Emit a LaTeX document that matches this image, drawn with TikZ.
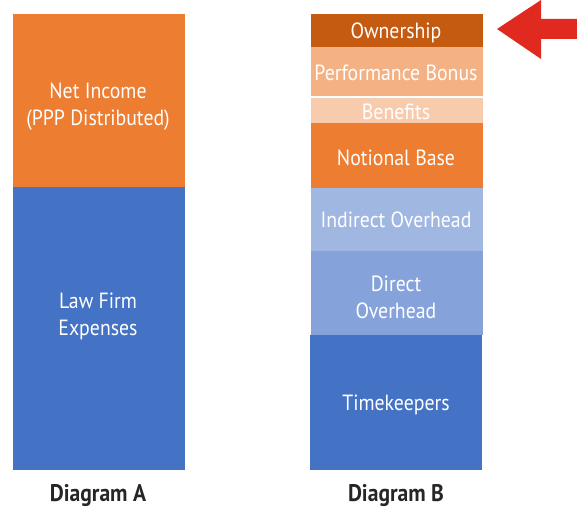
\documentclass[tikz,border=0pt]{standalone}
\usepackage{fontspec}
\setmainfont{PT Sans}[FakeStretch=0.9]
\begin{document}
\definecolor{cOrange}{HTML}{ED7D31}
\definecolor{cBlue}{HTML}{4472C4}
\definecolor{cDark}{HTML}{C55A11}
\definecolor{cBonus}{HTML}{F4B183}
\definecolor{cBenef}{HTML}{F8CBAD}
\definecolor{cIndir}{HTML}{A0B7E1}
\definecolor{cDirect}{HTML}{85A3DA}
\definecolor{cRed}{HTML}{E02A1F}
\definecolor{cCap}{HTML}{262626}
\begin{tikzpicture}[x=1pt,y=-1pt,
  block/.style={anchor=north west,inner sep=0pt,outer sep=0pt,minimum width=172pt},
  lbl/.style={text=white,font=\fontsize{22}{27}\selectfont,align=center,inner sep=0pt},
  captext/.style={text=cCap,font=\fontsize{24}{28}\selectfont\bfseries,inner sep=0pt}]
\useasboundingbox (0,0) rectangle (577,510);
% Diagram A
\node[block,fill=cOrange,minimum height=173pt] (ni) at (13,14) {};
\node[block,fill=cBlue,minimum height=283pt] (lfe) at (13,187) {};
\node[lbl] (tni) at (98,107) {Net Income\\(PPP Distributed)};
\node[lbl] (tlfe) at (98,316) {Law Firm\\Expenses};
\node[captext] (ca) at (98,496) {Diagram A};
% Diagram B
\node[block,fill=cDark,minimum height=33pt] (own) at (311,14) {};
\node[block,fill=cBonus,minimum height=49pt] (pb) at (311,47) {};
\node[block,fill=cBenef,minimum height=25pt] (ben) at (311,98) {};
\node[block,fill=cOrange,minimum height=65pt] (nb) at (311,123) {};
\node[block,fill=cIndir,minimum height=63pt] (io) at (311,188) {};
\node[block,fill=cDirect,minimum height=84pt] (dov) at (311,251) {};
\node[block,fill=cBlue,minimum height=135pt] (tk) at (310,335) {};
\node[lbl] at (396,33) {Ownership};
\node[lbl] at (396,73) {Performance Bonus};
\node[lbl] at (396,112) {Benefits};
\node[lbl] at (396,158) {Notional Base};
\node[lbl] at (396,220) {Indirect Overhead};
\node[lbl] at (396,297) {Direct\\Overhead};
\node[lbl] at (396,405) {Timekeepers};
\node[captext] (cb) at (396,496) {Diagram B};
% pointer arrow
\fill[cRed] (497,29) -- (541,0) -- (541,19) -- (580,19) -- (580,39) -- (541,39) -- (541,59) -- cycle;
\end{tikzpicture}
\end{document}
